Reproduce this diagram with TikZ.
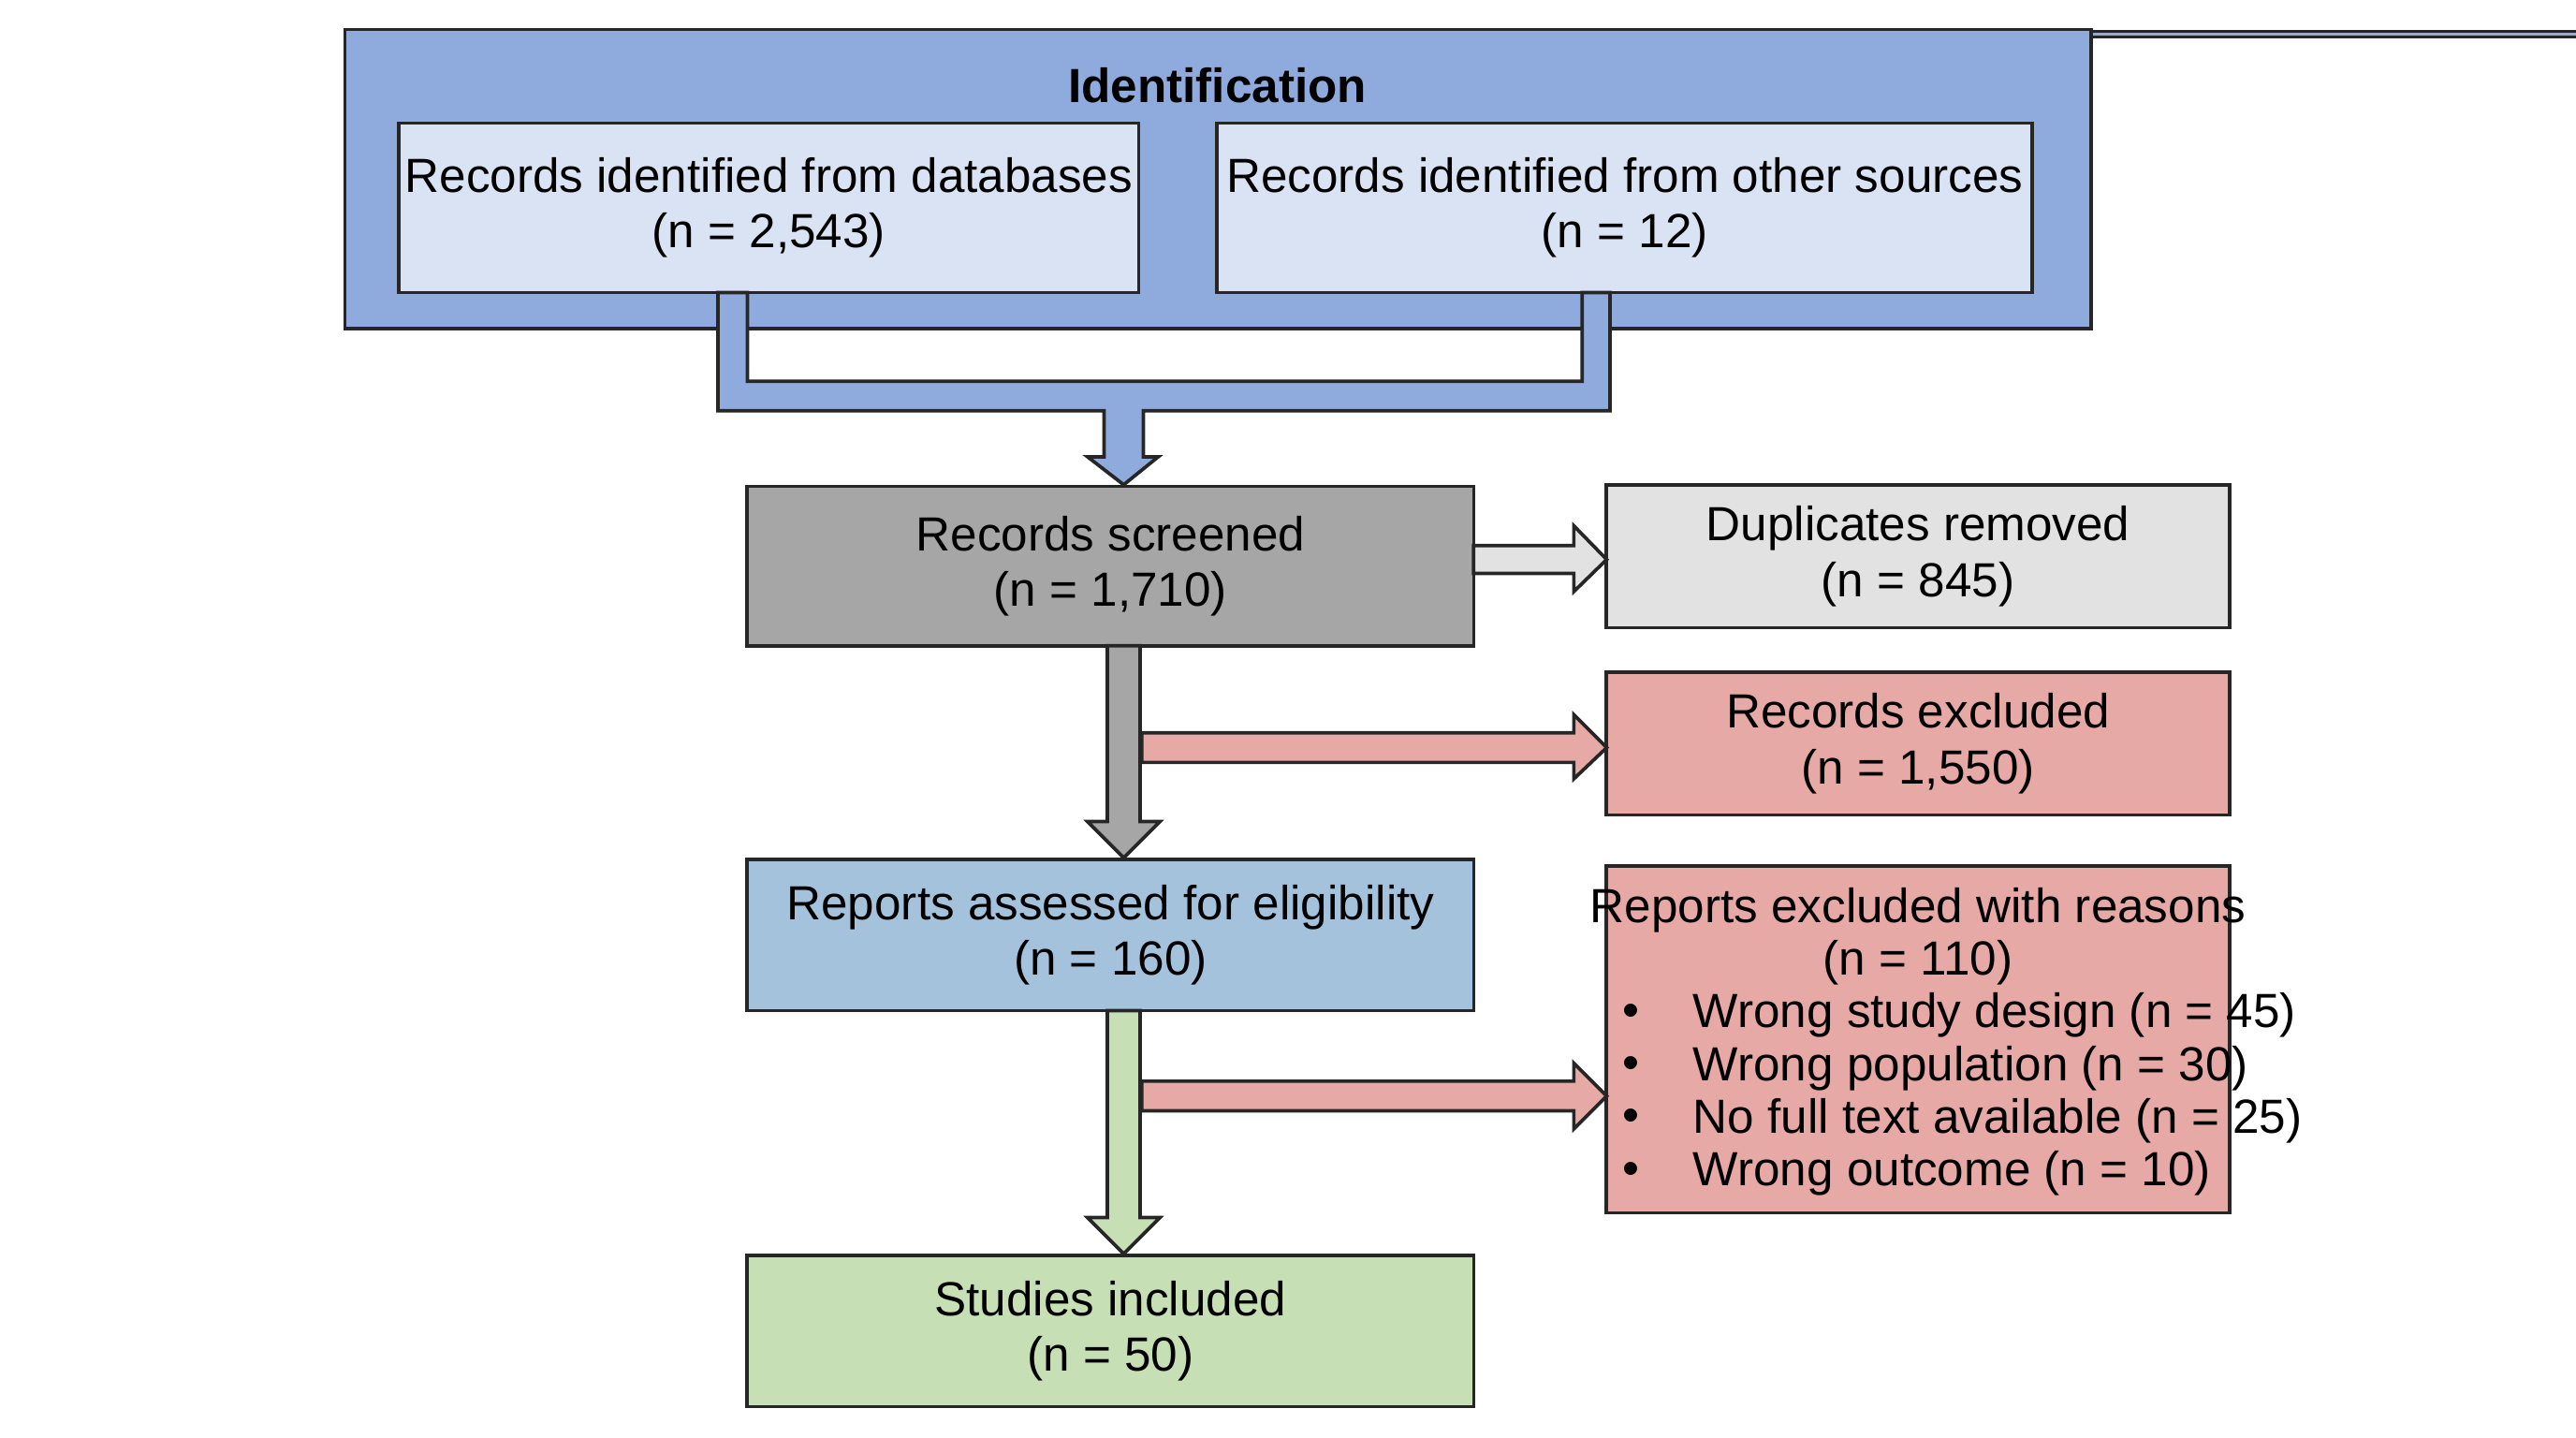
\documentclass[tikz,border=0pt]{standalone}
\usepackage{fontspec}
\setmainfont{Liberation Sans}
\begin{document}
\begin{tikzpicture}[x=0.01cm,y=-0.01cm,
  box/.style={draw=black!85,line width=0.6pt,inner sep=0pt,align=center,font=\fontsize{8.3}{9.6}\selectfont},
  arr/.style={draw=black!85,line width=0.6pt},
  txt/.style={font=\fontsize{8.3}{9.6}\selectfont,inner sep=0pt}]
\definecolor{idb}{HTML}{8FAADC}
\definecolor{lb}{HTML}{DAE3F3}
\definecolor{gr}{HTML}{A6A6A6}
\definecolor{lg}{HTML}{E2E2E2}
\definecolor{pk}{HTML}{E6A9A6}
\definecolor{mb}{HTML}{A4C2DC}
\definecolor{gn}{HTML}{C6DFB4}
\useasboundingbox (0,0) rectangle (1568,875);
\node[box,fill=idb,minimum width=1063\pgflinewidth,anchor=north west] (id) at (210,18) {};
\fill[idb,draw=black!85,line width=0.6pt] (210,18) rectangle (1273,200);
\node[txt,font=\fontsize{8.3}{9.6}\selectfont\bfseries] (idt) at (741,52) {Identification};
\node[box,fill=lb,minimum width=4.5cm,minimum height=1.03cm] (db) at (468,126.5) {Records identified from databases\\(n = 2,543)};
\node[box,fill=lb,minimum width=4.96cm,minimum height=1.03cm] (os) at (989,126.5) {Records identified from other sources\\(n = 12)};
\fill[idb,arr] (437,178)--(437,250)--(672,250)--(672,278)--(662,278)--(684,295)--(705,278)--(696,278)--(696,250)--(980,250)--(980,178)--(963,178)--(963,232)--(455,232)--(455,178)--cycle;
\node[box,fill=gr,minimum width=4.42cm,minimum height=0.97cm] (scr) at (676,344.5) {Records screened\\(n = 1,710)};
\node[box,fill=lg,minimum width=3.79cm,minimum height=0.87cm] (dup) at (1167.5,338.5) {Duplicates removed\\(n = 845)};
\node[box,fill=pk,minimum width=3.79cm,minimum height=0.87cm] (rex) at (1167.5,452.5) {Records excluded\\(n = 1,550)};
\node[box,fill=mb,minimum width=4.42cm,minimum height=0.92cm] (rep) at (676,569) {Reports assessed for eligibility\\(n = 160)};
\node[box,fill=pk,minimum width=3.79cm,minimum height=2.11cm] (repx) at (1167.5,632.5) {};
\node[txt] at (1167.5,554) {Reports excluded with reasons};
\node[txt] at (1167.5,586) {(n = 110)};
\foreach \y/\t in {618/Wrong study design (n = 45),650/Wrong population (n = 30),682/No full text available (n = 25),714/Wrong outcome (n = 10)}{
  \node[txt] at (993,\y) {•};
  \node[txt,anchor=west] at (1030,\y) {\t};}
\node[box,fill=gn,minimum width=4.42cm,minimum height=0.92cm] (inc) at (676,810) {Studies included\\(n = 50)};
% arrows
\fill[lg,arr] (897,332)--(958,332)--(958,320)--(978,340.5)--(958,360)--(958,349)--(897,349)--cycle;
\fill[gr,arr] (674,393)--(674,500)--(662,500)--(684,522)--(706,500)--(694,500)--(694,393)--cycle;
\fill[pk,arr] (695,446)--(958,446)--(958,435)--(978,455)--(958,474)--(958,464)--(695,464)--cycle;
\fill[gn,arr] (674,615)--(674,741)--(662,741)--(684,763)--(706,741)--(694,741)--(694,615)--cycle;
\fill[pk,arr] (695,658)--(958,658)--(958,647)--(978,667)--(958,687)--(958,676)--(695,676)--cycle;
\end{tikzpicture}
\end{document}
